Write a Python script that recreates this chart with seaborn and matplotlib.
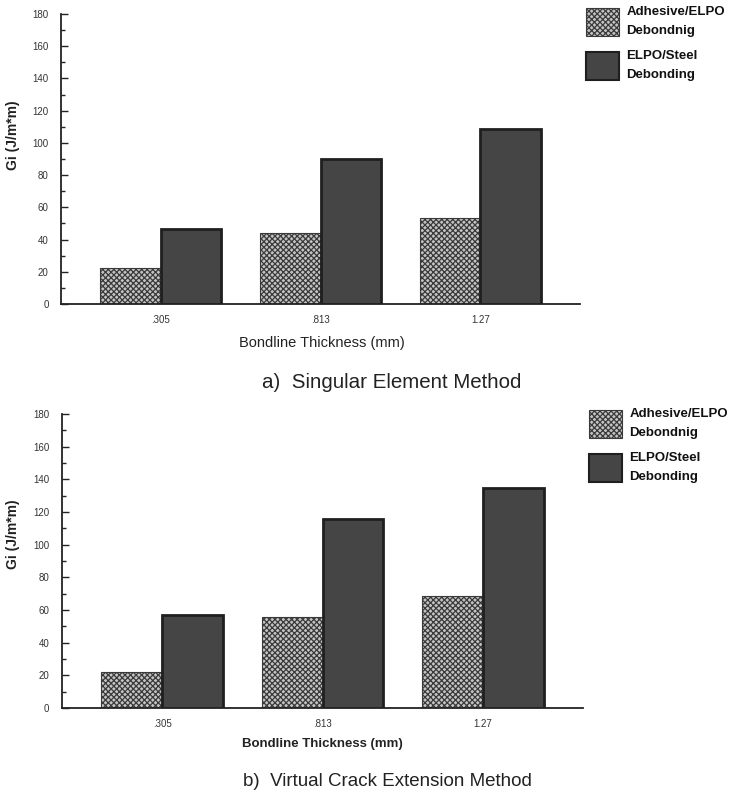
import numpy as np
import pandas as pd
import matplotlib
matplotlib.use("Agg")
import matplotlib.pyplot as plt
import seaborn as sns
from matplotlib.ticker import MultipleLocator
from matplotlib.patches import Patch

# ---------------- data ----------------
thickness = [".305", ".813", "1.27"]
series = ["Adhesive/ELPO\nDebondnig", "ELPO/Steel\nDebonding"]
sem_adhesive = [22.5, 44, 53.5]
sem_elpo = [46.5, 90, 108.5]
vce_adhesive = [22, 55.5, 68.5]
vce_elpo = [57, 116, 135]
captions = ["a)  Singular Element Method", "b)  Virtual Crack Extension Method"]
y_label = "Gi (J/m*m)"
x_label = "Bondline Thickness (mm)"
y_major = [0, 20, 40, 60, 80, 100, 120, 140, 160, 180]

# ---------------- style ----------------
sns.set_theme(style="white")
plt.rcParams["font.family"] = ["Liberation Sans", "DejaVu Sans"]
plt.rcParams["hatch.linewidth"] = 0.9

ADH_FACE, ADH_EDGE, ADH_HATCH = "#c4c4c4", "#3a3a3a", "xxxxxx"
ELPO_FACE, ELPO_EDGE = "#454545", "#1f1f1f"

fig = plt.figure(figsize=(7.34, 7.98), dpi=100)
W, H = 734, 798


def ax_rect(x0, y0, x1, y1):
    return [x0 / W, 1 - y1 / H, (x1 - x0) / W, (y1 - y0) / H]


def panel(ax, adh, elpo, cap, cap_xy, cap_size, ylab_y, xlab_y, xlab_size,
          leg_xy, bold):
    df = pd.DataFrame({
        "thickness": thickness * 2,
        "Gi": list(adh) + list(elpo),
        "type": [series[0]] * len(thickness) + [series[1]] * len(thickness),
    })
    sns.barplot(data=df, x="thickness", y="Gi", hue="type", order=thickness,
                hue_order=series, palette=[ADH_FACE, ELPO_FACE], saturation=1,
                width=0.76, errorbar=None, legend=False, ax=ax)
    for bar in ax.containers[0]:
        bar.set_facecolor(ADH_FACE)
        bar.set_edgecolor(ADH_EDGE)
        bar.set_hatch(ADH_HATCH)
        bar.set_linewidth(0.8)
    for bar in ax.containers[1]:
        bar.set_facecolor(ELPO_FACE)
        bar.set_edgecolor(ELPO_EDGE)
        bar.set_linewidth(2.0)

    ax.set_xlim(-0.625, 2.625)
    ax.set_ylim(0, 180)
    ax.set_yticks(y_major)
    ax.yaxis.set_minor_locator(MultipleLocator(10))
    ax.set_xlabel("")
    ax.set_ylabel("")
    for s in ["top", "right"]:
        ax.spines[s].set_visible(False)
    for s in ["left", "bottom"]:
        ax.spines[s].set_color("#222222")
        ax.spines[s].set_linewidth(1.3)
    ax.tick_params(axis="y", which="major", direction="in", length=5, width=1,
                   color="#222222", labelsize=7, pad=9, left=True,
                   labelcolor="#333333")
    ax.tick_params(axis="y", which="minor", direction="in", length=3, width=1,
                   color="#222222", left=True)
    ax.tick_params(axis="x", length=0, labelsize=7, pad=8, labelcolor="#333333")

    w = "bold" if bold else "normal"
    fig.text(13 / W, 1 - ylab_y / H, y_label, rotation=90, ha="center",
             va="center", fontsize=10, fontweight="bold", color="#222222")
    fig.text(322 / W, 1 - xlab_y / H, x_label, ha="center", va="center",
             fontsize=xlab_size, fontweight=w, color="#222222")
    fig.text(cap_xy[0] / W, 1 - cap_xy[1] / H, cap, ha="left", va="center",
             fontsize=cap_size, color="#222222")

    handles = [
        Patch(facecolor=ADH_FACE, edgecolor=ADH_EDGE, hatch=ADH_HATCH, linewidth=0.8),
        Patch(facecolor=ELPO_FACE, edgecolor=ELPO_EDGE, linewidth=1.5),
    ]
    leg = ax.legend(handles=handles, labels=series, loc="upper left",
                    bbox_to_anchor=(leg_xy[0] / W, 1 - leg_xy[1] / H),
                    bbox_transform=fig.transFigure, frameon=False,
                    prop={"size": 9.5, "weight": "bold"},
                    handlelength=2.5, handleheight=2.9, labelspacing=1.0,
                    handletextpad=0.55, borderaxespad=0, borderpad=0)
    for t in leg.get_texts():
        t.set_color("#111111")
        t.set_linespacing(1.75)


ax1 = fig.add_axes(ax_rect(61, 14, 580, 304))
panel(ax1, sem_adhesive, sem_elpo, captions[0], (262, 383), 14.8, 135, 343,
      10.5, (586, 6), False)

ax2 = fig.add_axes(ax_rect(62, 414, 583, 708))
panel(ax2, vce_adhesive, vce_elpo, captions[1], (243, 782), 13.5, 534, 744,
      9.5, (589, 408), True)

fig.savefig("out.png", dpi=100, facecolor="white")
